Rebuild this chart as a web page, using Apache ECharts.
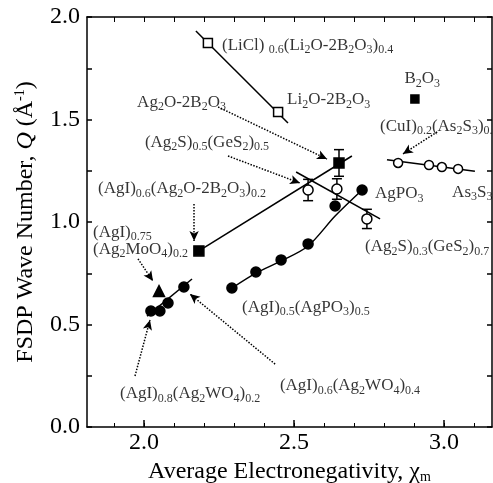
<!DOCTYPE html>
<html>
<head>
<meta charset="utf-8">
<script src="https://cdn.jsdelivr.net/npm/echarts@6/dist/echarts.min.js"></script>
<style>
  html, body { margin: 0; padding: 0; background: #fff; }
  #chart { width: 493px; height: 483px; }
</style>
</head>
<body>
<div id="chart"></div>
<script>
// axis ticks
const xLabels = [2.0, 2.5, 3.0];
const xMinorTicks = [1.9, 2.0, 2.1, 2.2, 2.3, 2.4, 2.5, 2.6, 2.7, 2.8, 2.9, 3.0, 3.1];
const yLabels = [0.0, 0.5, 1.0, 1.5, 2.0];

// data series (x = electronegativity, y = Q)
const liclPts = [[2.213, 1.873], [2.447, 1.537]];
const liclFit = [[2.173, 1.932], [2.48, 1.483]];
const agbPts = [[2.183, 0.859], [2.65, 1.288]];
const agbFit = [[2.183, 0.859], [2.693, 1.322]];
const agsPts = [[2.547, 1.156], [2.643, 1.161], [2.743, 1.015]];
const agsFit = [[2.507, 1.244], [2.787, 1.015]];
const agpPts = [[2.293, 0.678], [2.373, 0.756], [2.457, 0.815], [2.547, 0.893], [2.637, 1.078], [2.727, 1.156]];
const agpFit = [[2.293, 0.678], [2.373, 0.751], [2.457, 0.810], [2.547, 0.883], [2.637, 1.029], [2.727, 1.156]];
const agwPts = [[2.023, 0.566], [2.053, 0.566], [2.08, 0.605], [2.133, 0.683]];
const agwFit = [[2.01, 0.541], [2.16, 0.722]];
const moPt = [[2.05, 0.663]];
const cuiPts = [[2.847, 1.288], [2.95, 1.278], [2.993, 1.268], [3.047, 1.259]];
const cuiFit = [[2.81, 1.304], [3.103, 1.248]];
const b2o3Pt = [[2.903, 1.60]];
// [x, y, half error]
const errBars = [[2.65, 1.288, 0.065], [2.547, 1.156, 0.052], [2.643, 1.161, 0.05], [2.743, 1.015, 0.047]];

// annotation text, anchored at left edge
const notes = [
  [2.26, 1.863, '(LiCl) {s|0.6}(Li{s|2}O-2B{s|2}O{s|3}){s|0.4}'],
  [2.477, 1.595, 'Li{s|2}O-2B{s|2}O{s|3}'],
  [2.868, 1.698, 'B{s|2}O{s|3}'],
  [1.977, 1.585, 'Ag{s|2}O-2B{s|2}O{s|3}'],
  [2.003, 1.39, '(Ag{s|2}S){s|0.5}(GeS{s|2}){s|0.5}'],
  [1.847, 1.161, '(AgI){s|0.6}(Ag{s|2}O-2B{s|2}O{s|3}){s|0.2}'],
  [1.83, 0.951, '(AgI){s|0.75}'],
  [1.83, 0.868, '(Ag{s|2}MoO{s|4}){s|0.2}'],
  [2.787, 1.468, '(CuI){s|0.2}(As{s|2}S{s|3}){s|0.8}'],
  [2.77, 1.137, 'AgPO{s|3}'],
  [3.027, 1.146, 'As{s|3}S{s|3}'],
  [2.737, 0.878, '(Ag{s|2}S){s|0.3}(GeS{s|2}){s|0.7}'],
  [2.327, 0.585, '(AgI){s|0.5}(AgPO{s|3}){s|0.5}'],
  [1.92, 0.161, '(AgI){s|0.8}(Ag{s|2}WO{s|4}){s|0.2}'],
  [2.453, 0.2, '(AgI){s|0.6}(Ag{s|2}WO{s|4}){s|0.4}']
];
// dotted arrows [from, to]
const arrows = [
  [[2.247, 1.561], [2.61, 1.307]],
  [[2.28, 1.322], [2.52, 1.19]],
  [[2.167, 1.088], [2.167, 0.907]],
  [[1.98, 0.82], [2.03, 0.712]],
  [[1.97, 0.249], [2.02, 0.522]],
  [[2.437, 0.307], [2.153, 0.649]],
  [[2.977, 1.439], [2.863, 1.332]]
];

const FONT = 'Liberation Serif';
const xMin = 1.81, xMax = 3.16;

let myChart = echarts.init(document.getElementById('chart'));

function fitLine(data, smooth) {
  return {
    type: 'line', data: data, showSymbol: false, smooth: smooth || false,
    lineStyle: { color: '#000', width: 1.5 }, z: 2, silent: true
  };
}
function points(data, symbol, filled, size) {
  return {
    type: 'scatter', data: data, symbol: symbol, symbolSize: size || 9, z: 4,
    itemStyle: { color: filled ? '#000' : '#fff', borderColor: '#000', borderWidth: 1.5, opacity: 1 }
  };
}

const xBase = {
  type: 'value', min: xMin, max: xMax, splitLine: { show: false }
};

const option = {
  animation: false,
  backgroundColor: '#fff',
  grid: { left: 87, right: 1, top: 17, bottom: 56, outerBoundsMode: 'none', containLabel: false },
  xAxis: [
    Object.assign({}, xBase, {
      position: 'bottom',
      name: 'Average Electronegativity, χ{s|m}',
      nameLocation: 'middle', nameGap: 25,
      nameTextStyle: {
        fontFamily: FONT, fontSize: 24, color: '#000', verticalAlign: 'top',
        rich: { s: { fontFamily: FONT, fontSize: 14, lineHeight: 14, verticalAlign: 'bottom' } }
      },
      axisLine: { lineStyle: { color: '#000', width: 1.5 } },
      axisTick: { inside: true, length: 7, customValues: xLabels, lineStyle: { color: '#000', width: 1.5 } },
      axisLabel: { customValues: xLabels, fontFamily: FONT, fontSize: 24, color: '#000', margin: 4,
        formatter: (v) => v.toFixed(1) }
    }),
    Object.assign({}, xBase, {
      position: 'bottom',
      axisLine: { show: false },
      axisTick: { inside: true, length: 4, customValues: xMinorTicks, lineStyle: { color: '#000', width: 1 } },
      axisLabel: { show: false }
    }),
    Object.assign({}, xBase, {
      position: 'top',
      axisLine: { lineStyle: { color: '#000', width: 1.5 } },
      axisTick: { inside: true, length: 5, customValues: xMinorTicks, lineStyle: { color: '#000', width: 1 } },
      axisLabel: { show: false }
    })
  ],
  yAxis: [
    {
      type: 'value', min: 0, max: 2, interval: 0.25, position: 'left',
      splitLine: { show: false },
      name: 'FSDP Wave Number, {i|Q} (Å{p|-1})',
      nameLocation: 'middle', nameGap: 39,
      nameTextStyle: {
        fontFamily: FONT, fontSize: 24, color: '#000', lineHeight: 26,
        rich: {
          i: { fontFamily: FONT, fontSize: 24, fontStyle: 'italic', lineHeight: 26 },
          p: { fontFamily: FONT, fontSize: 14, lineHeight: 14, verticalAlign: 'top' }
        }
      },
      axisLine: { lineStyle: { color: '#000', width: 1.5 } },
      axisTick: { inside: true, length: 5, lineStyle: { color: '#000', width: 1.5 } },
      axisLabel: { customValues: yLabels, fontFamily: FONT, fontSize: 24, color: '#000', margin: 7,
        formatter: (v) => v.toFixed(1) }
    },
    {
      type: 'value', min: 0, max: 2, interval: 0.25, position: 'right',
      splitLine: { show: false },
      axisLine: { lineStyle: { color: '#000', width: 1.5 } },
      axisTick: { inside: true, length: 5, lineStyle: { color: '#000', width: 1.5 } },
      axisLabel: { show: false }
    }
  ],
  series: [
    fitLine(liclFit),
    fitLine(agbFit),
    fitLine(agsFit),
    fitLine(agpFit, 0.3),
    fitLine(agwFit),
    fitLine(cuiFit),
    {
      type: 'custom', z: 3, silent: true,
      data: errBars,
      renderItem: function (params, api) {
        const x = api.value(0), y = api.value(1), e = api.value(2);
        const top = api.coord([x, y + e]);
        const bot = api.coord([x, y - e]);
        const w = 5;
        const st = { stroke: '#000', lineWidth: 1.5 };
        return {
          type: 'group',
          children: [
            { type: 'line', shape: { x1: top[0], y1: top[1], x2: bot[0], y2: bot[1] }, style: st },
            { type: 'line', shape: { x1: top[0] - w, y1: top[1], x2: top[0] + w, y2: top[1] }, style: st },
            { type: 'line', shape: { x1: bot[0] - w, y1: bot[1], x2: bot[0] + w, y2: bot[1] }, style: st }
          ]
        };
      }
    },
    points(liclPts, 'rect', false, 9),
    points(agbPts, 'rect', true, 10),
    points(agsPts, 'circle', false, 10),
    points(agpPts, 'circle', true, 10),
    points(agwPts, 'circle', true, 10),
    points(moPt, 'triangle', true, 11),
    points(cuiPts, 'circle', false, 9),
    points(b2o3Pt, 'rect', true, 8),
    {
      type: 'scatter', symbolSize: 0, z: 6, silent: true,
      data: notes.map((n) => ({ value: [n[0], n[1]], label: { formatter: n[2] } })),
      label: {
        show: true, position: 'right', distance: 0,
        fontFamily: FONT, fontSize: 17, color: '#000', lineHeight: 22,
        rich: { s: { fontFamily: FONT, fontSize: 12, lineHeight: 12, verticalAlign: 'bottom' } }
      },
      markLine: {
        silent: true, symbol: ['none', 'arrow'], symbolSize: [7, 10],
        label: { show: false },
        lineStyle: { color: '#000', type: 'dotted', width: 1.5 },
        data: arrows.map((a) => [{ coord: a[0] }, { coord: a[1] }])
      }
    }
  ]
};
myChart.setOption(option);
</script>
</body>
</html>
